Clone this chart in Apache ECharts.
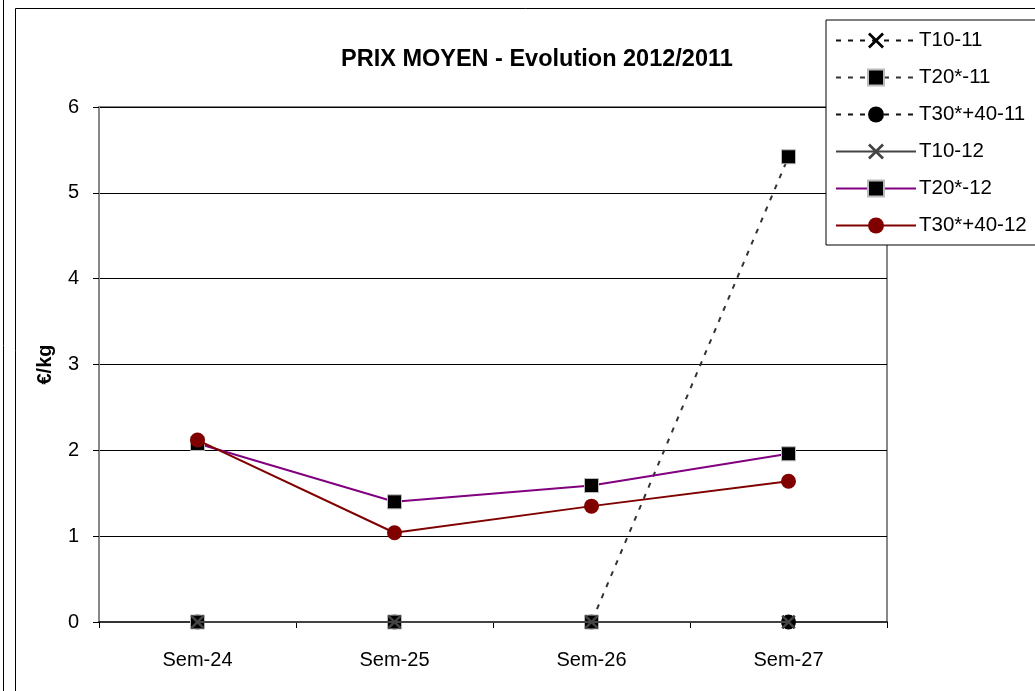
<!DOCTYPE html>
<html>
<head>
<meta charset="utf-8">
<script src="https://cdn.jsdelivr.net/npm/echarts@6/dist/echarts.min.js"></script>
<style>
    html, body { margin: 0; padding: 0; background: #fff; }
    #chart { width: 1035px; height: 691px; }
</style>
</head>
<body>
<div id="chart"></div>
<script>
    // données
    var categories = ['Sem-24', 'Sem-25', 'Sem-26', 'Sem-27'];
    var t10_11 = [0, 0, 0, 0];
    var t20_11 = [0, 0, 0, 5.42];
    var t30_11 = [0, 0, 0, 0];
    var t10_12 = [0, 0, 0, 0];
    var t20_12 = [2.08, 1.40, 1.59, 1.96];
    var t30_12 = [2.12, 1.04, 1.35, 1.64];
    var yTicks = [0, 1, 2, 3, 4, 5, 6];

    var font = '"Liberation Sans", Arial, sans-serif';
    // croix remplie (marqueur X)
    var cross = 'path://M0,1.2L1.2,0L5,3.8L8.8,0L10,1.2L6.2,5L10,8.8L8.8,10L5,6.2L1.2,10L0,8.8L3.8,5Z';

    var myChart = echarts.init(document.getElementById('chart'));

    function mkSerie(name, data, color, type, width, symbol, symColor, z) {
        return {
            name: name,
            type: 'line',
            data: data,
            z: z,
            symbol: symbol,
            symbolSize: symbol === 'circle' ? 15 : 14,
            showAllSymbol: true,
            lineStyle: { color: color, type: type, width: width },
            itemStyle: {
                color: symColor,
                borderColor: symbol === 'rect' ? '#bbb' : symColor,
                borderWidth: symbol === 'rect' ? 1 : 0
            },
            emphasis: { disabled: true }
        };
    }

    var option = {
        backgroundColor: '#fff',
        animation: false,
        title: {
            text: 'PRIX MOYEN - Evolution 2012/2011',
            left: 336,
            top: 43,
            textStyle: { fontFamily: font, fontSize: 23.5, fontWeight: 'bold', color: '#000' }
        },
        legend: {
            orient: 'vertical',
            left: 826,
            top: 20,
            padding: [10, 40, 9, 9],
            itemWidth: 80,
            itemHeight: 20,
            itemGap: 16,
            backgroundColor: '#fff',
            borderColor: '#000',
            borderWidth: 1,
            textStyle: { fontFamily: font, fontSize: 20.5, color: '#000', padding: [0, 0, 0, -2], lineHeight: 18 },
            data: ['T10-11', 'T20*-11', 'T30*+40-11', 'T10-12', 'T20*-12', 'T30*+40-12']
        },
        graphic: [
            { type: 'rect', shape: { x: 15.5, y: 8.5, width: 1040, height: 700 }, style: { fill: 'none', stroke: '#000', lineWidth: 1 }, z: -1 },
            { type: 'line', shape: { x1: 3.5, y1: 0, x2: 3.5, y2: 691 }, style: { stroke: '#000', lineWidth: 1 }, z: -1 }
        ],
        grid: {
            left: 99,
            right: 148,
            top: 107,
            bottom: 69,
            show: true,
            borderColor: '#888',
            borderWidth: 2
        },
        xAxis: {
            type: 'category',
            data: categories,
            boundaryGap: true,
            axisLine: { lineStyle: { color: '#333', width: 2 } },
            axisTick: { show: true, length: 6, lineStyle: { color: '#000' } },
            axisLabel: { fontFamily: font, fontSize: 20, color: '#000', margin: 28 }
        },
        yAxis: {
            type: 'value',
            min: yTicks[0],
            max: yTicks[yTicks.length - 1],
            interval: 1,
            name: '€/kg',
            nameLocation: 'middle',
            nameRotate: 90,
            nameGap: 44,
            nameTextStyle: { fontFamily: font, fontSize: 20, fontWeight: 'bold', color: '#000' },
            axisLine: { show: true, lineStyle: { color: '#888', width: 2 } },
            axisTick: { show: true, length: 6, lineStyle: { color: '#000' } },
            axisLabel: { fontFamily: font, fontSize: 20, color: '#000', margin: 20 },
            splitLine: { show: true, lineStyle: { color: '#000', width: 1 } }
        },
        series: [
            mkSerie('T10-11', t10_11, '#111', [5, 7], 2, cross, '#000', 2),
            mkSerie('T20*-11', t20_11, '#333', [5, 7], 2, 'rect', '#000', 3),
            mkSerie('T30*+40-11', t30_11, '#111', [5, 7], 2, 'circle', '#000', 2),
            mkSerie('T10-12', t10_12, '#444', 'solid', 2, cross, '#444', 4),
            mkSerie('T20*-12', t20_12, '#800080', 'solid', 2, 'rect', '#000', 5),
            mkSerie('T30*+40-12', t30_12, '#800000', 'solid', 2, 'circle', '#800000', 6)
        ]
    };

    myChart.setOption(option);
</script>
</body>
</html>
